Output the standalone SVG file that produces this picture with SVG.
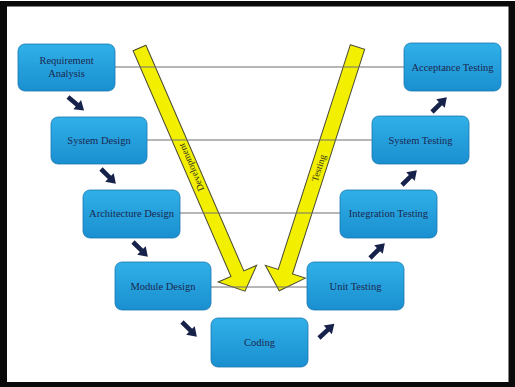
<svg xmlns="http://www.w3.org/2000/svg" xmlns:xlink="http://www.w3.org/1999/xlink" width="515" height="387" viewBox="0 0 515 387">
<defs>
<linearGradient id="bg" x1="0" y1="0" x2="0" y2="1">
<stop offset="0" stop-color="#30b0e8"/>
<stop offset="1" stop-color="#1a8fd0"/>
</linearGradient>
<path id="blk" d="M0,-2.3 L12,-2.3 L12,-6 L21,0 L12,6 L12,2.3 L0,2.3 Z"/>
<style>
.box{fill:url(#bg);stroke:#1877b0;stroke-width:0.8}
.lbl{font-family:"Liberation Serif","Times New Roman",serif;font-size:10.5px;fill:#1c2850;text-anchor:middle}
.hl{stroke:#6e6e6e;stroke-width:1;fill:none}
.yarr{fill:#f2f000;stroke:#4a4a30;stroke-width:1}
.alb{font-family:"Liberation Serif","Times New Roman",serif;font-size:9.5px;fill:#333318;text-anchor:middle}
.sa{fill:#17224a}
</style>
</defs>
<rect x="0" y="0" width="515" height="387" fill="#ffffff"/>
<path d="M0,1 H515 V387 H0 Z M7,6.5 V382 H508.5 V6.5 Z" fill="#0a0a0a" fill-rule="evenodd"/>

<g id="arrow-development">
<g transform="translate(139.5,48) rotate(-23.45)">
<polygon class="yarr" points="-7,0 7,0 7,246 21,246 0,265 -21,246 -7,246"/>
<text class="alb" transform="translate(0,130) rotate(-90)" dy="3.2">Development</text>
</g>
</g>
<g id="arrow-testing">
<g transform="translate(357.5,47) rotate(17.8)">
<polygon class="yarr" points="-7.5,0 7.5,0 7.5,236 21,236 0,256 -21,236 -7.5,236"/>
<text class="alb" transform="translate(0,127) rotate(-90)" dy="3.2">Testing</text>
</g>
</g>

<g id="connectors">
<line class="hl" x1="115" y1="67" x2="404" y2="67"/>
<line class="hl" x1="147" y1="140" x2="372" y2="140"/>
<line class="hl" x1="180" y1="213" x2="340" y2="213"/>
<line class="hl" x1="211" y1="287" x2="307" y2="287"/>
<use href="#blk" class="sa" transform="translate(68,97) rotate(40)"/>
<use href="#blk" class="sa" transform="translate(101,169) rotate(45)"/>
<use href="#blk" class="sa" transform="translate(133,242) rotate(45)"/>
<use href="#blk" class="sa" transform="translate(182,322) rotate(45)"/>
<use href="#blk" class="sa" transform="translate(319,338) rotate(-43)"/>
<use href="#blk" class="sa" transform="translate(370,258) rotate(-45)"/>
<use href="#blk" class="sa" transform="translate(402,185) rotate(-45)"/>
<use href="#blk" class="sa" transform="translate(432,112) rotate(-45)"/>
</g>

<g id="requirement-analysis">
<rect class="box" x="18" y="44" width="97" height="47" rx="7"/>
<text class="lbl" x="66.5" y="64">Requirement</text>
<text class="lbl" x="66.5" y="76.5">Analysis</text>
</g>
<g id="system-design">
<rect class="box" x="51" y="117" width="96" height="47" rx="7"/>
<text class="lbl" x="99" y="144">System Design</text>
</g>
<g id="architecture-design">
<rect class="box" x="83" y="190" width="97" height="48" rx="7"/>
<text class="lbl" x="131.5" y="217">Architecture Design</text>
</g>
<g id="module-design">
<rect class="box" x="115" y="262" width="96" height="48" rx="7"/>
<text class="lbl" x="163" y="290">Module Design</text>
</g>
<g id="coding">
<rect class="box" x="211" y="318" width="97" height="49" rx="7"/>
<text class="lbl" x="259.5" y="346">Coding</text>
</g>
<g id="unit-testing">
<rect class="box" x="307" y="262" width="97" height="48" rx="7"/>
<text class="lbl" x="355.5" y="290">Unit Testing</text>
</g>
<g id="integration-testing">
<rect class="box" x="340" y="190" width="97" height="48" rx="7"/>
<text class="lbl" x="388.5" y="217">Integration Testing</text>
</g>
<g id="system-testing">
<rect class="box" x="372" y="116" width="97" height="48" rx="7"/>
<text class="lbl" x="420.5" y="143.5">System Testing</text>
</g>
<g id="acceptance-testing">
<rect class="box" x="404" y="43" width="97" height="48" rx="7"/>
<text class="lbl" x="452.5" y="70.5">Acceptance Testing</text>
</g>
</svg>
